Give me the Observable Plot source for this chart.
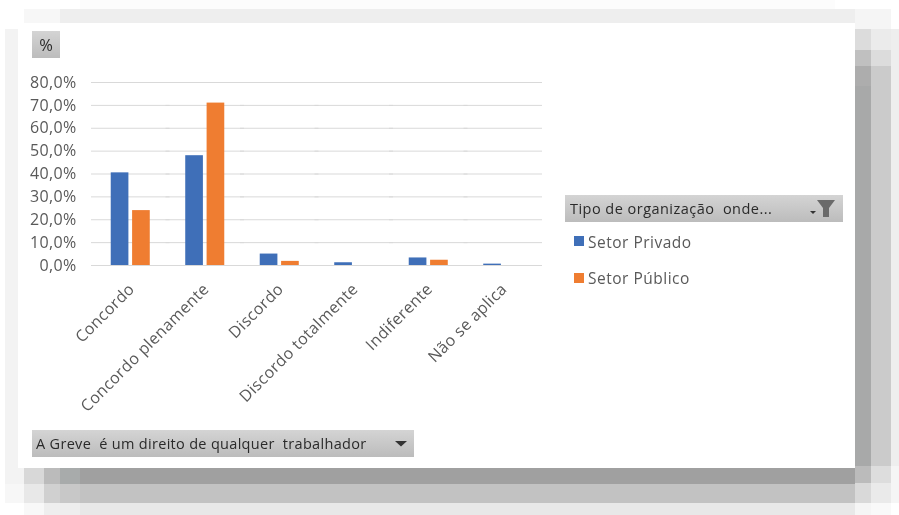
<!DOCTYPE html>
<html lang="pt">
<head>
<meta charset="utf-8">
<script src="https://cdn.jsdelivr.net/npm/d3@7"></script>
<script src="https://cdn.jsdelivr.net/npm/@observablehq/plot@0.6"></script>
<style>
html,body{margin:0;padding:0;background:#fff}
#stage{position:relative;width:899px;height:515px;overflow:hidden;background:#fff;font-family:"Open Sans",sans-serif}
#stage .s{position:absolute}
#panel{position:absolute;left:18px;top:23px;width:837px;height:445px;background:#fff}
#chart{position:absolute;left:0;top:0}
#chart svg{display:block;background:transparent!important}
.btn{position:absolute;background:linear-gradient(#d4d4d4,#bcbcbc);color:#2a2a2a;white-space:pre;font-size:14.5px;line-height:27px;filter:blur(.4px)}
.leg{position:absolute;color:#595959;font-size:15.5px;letter-spacing:.5px;white-space:pre;filter:blur(.4px)}
.sw{position:absolute;width:10px;height:10px}
</style>
</head>
<body>
<div id="stage">
  <div class="s" style="left:80px;top:0;width:755px;height:9px;background:#fcfcfc"></div>
  <div class="s" style="left:24px;top:9px;width:36px;height:14px;background:#f7f7f7"></div>
  <div class="s" style="left:60px;top:9px;width:795px;height:14px;background:#eeeeee"></div>
  <div class="s" style="left:5px;top:29px;width:13px;height:439px;background:#f3f3f3"></div>
  <div class="s" style="left:855px;top:9px;width:36px;height:20px;background:#f5f5f5"></div>
  <div class="s" style="left:855px;top:29px;width:16px;height:21px;background:#dcdcdc"></div>
  <div class="s" style="left:855px;top:50px;width:16px;height:16px;background:#c0c0c0"></div>
  <div class="s" style="left:855px;top:66px;width:16px;height:20px;background:#adadad"></div>
  <div class="s" style="left:855px;top:86px;width:16px;height:380px;background:#a8a9a9"></div>
  <div class="s" style="left:871px;top:29px;width:20px;height:21px;background:#ebebeb"></div>
  <div class="s" style="left:871px;top:50px;width:20px;height:16px;background:#dcdcdc"></div>
  <div class="s" style="left:871px;top:66px;width:20px;height:400px;background:#cbcbcb"></div>
  <div class="s" style="left:891px;top:29px;width:8px;height:437px;background:#eeeeee"></div>
  <div class="s" style="left:5px;top:468px;width:19px;height:16px;background:#f3f3f3"></div>
  <div class="s" style="left:24px;top:468px;width:20px;height:16px;background:#d8d8d8"></div>
  <div class="s" style="left:44px;top:468px;width:16px;height:16px;background:#bbbbbb"></div>
  <div class="s" style="left:60px;top:468px;width:20px;height:16px;background:#a8abab"></div>
  <div class="s" style="left:80px;top:468px;width:775px;height:16px;background:#a0a0a0"></div>
  <div class="s" style="left:5px;top:484px;width:19px;height:19px;background:#f7f7f7"></div>
  <div class="s" style="left:24px;top:484px;width:20px;height:19px;background:#e8e8e8"></div>
  <div class="s" style="left:44px;top:484px;width:16px;height:19px;background:#d0d0d0"></div>
  <div class="s" style="left:60px;top:484px;width:20px;height:19px;background:#c8c8c8"></div>
  <div class="s" style="left:80px;top:484px;width:775px;height:19px;background:#c2c2c2"></div>
  <div class="s" style="left:24px;top:503px;width:20px;height:12px;background:#f8f8f8"></div>
  <div class="s" style="left:44px;top:503px;width:36px;height:12px;background:#eeeeee"></div>
  <div class="s" style="left:80px;top:503px;width:775px;height:12px;background:#e8e8e8"></div>
  <div class="s" style="left:855px;top:466px;width:16px;height:17px;background:#bbbbbb"></div>
  <div class="s" style="left:855px;top:483px;width:16px;height:20px;background:#d9d9d9"></div>
  <div class="s" style="left:855px;top:503px;width:16px;height:12px;background:#f5f5f5"></div>
  <div class="s" style="left:871px;top:466px;width:20px;height:17px;background:#dddddd"></div>
  <div class="s" style="left:871px;top:483px;width:20px;height:20px;background:#eaeaea"></div>
  <div class="s" style="left:871px;top:503px;width:20px;height:12px;background:#f9f9f9"></div>
  <div class="s" style="left:891px;top:466px;width:8px;height:37px;background:#f5f5f5"></div>
  <div id="panel"></div>
  <div id="chart"></div>
  <div class="btn" style="left:32px;top:31px;width:28px;height:27px;text-align:center;line-height:27px;font-size:16.5px">%</div>
  <div class="btn" style="left:565px;top:195px;width:278px;height:27px;padding-left:5px;box-sizing:border-box;letter-spacing:.47px">Tipo de organização  onde...</div>
  <svg class="s" style="left:808px;top:198px;filter:blur(.5px)" width="30" height="22"><path d="M2 13h6l-3 3z" fill="#333"/><path d="M9 2h18l-6 8v9h-6v-9z" fill="#6a6a6a"/></svg>
  <div class="sw" style="left:574px;top:236px;background:#3f6fb8"></div>
  <div class="leg" id="leg0" style="left:588px;top:231px"></div>
  <div class="sw" style="left:574px;top:273px;background:#ef7d31"></div>
  <div class="leg" id="leg1" style="left:588px;top:267px"></div>
  <div class="btn" style="left:32px;top:430px;width:382px;height:27px;padding-left:4px;box-sizing:border-box;letter-spacing:.31px">A Greve  é um direito de qualquer  trabalhador</div>
  <svg class="s" style="left:395px;top:441px" width="13" height="7"><path d="M0 0h12l-6 5.5z" fill="#333"/></svg>
</div>
<script>
const categories = ["Concordo","Concordo plenamente","Discordo","Discordo totalmente","Indiferente","Não se aplica"];
const seriesNames = ["Setor Privado","Setor Público"];
const privado = [40.5,48,5,1.2,3.3,0.6];
const publico = [24,71,1.8,0,2.3,0];
const yTicks = [0,10,20,30,40,50,60,70,80];
const colors = ["#3f6fb8","#ef7d31"];

const rows = categories.flatMap((c,i)=>[
  {category:c,series:seriesNames[0],value:privado[i]},
  {category:c,series:seriesNames[1],value:publico[i]}
]);

const chart = Plot.plot({
  width:899,height:515,
  marginLeft:93,marginRight:359,marginTop:82,marginBottom:250,
  style:{background:"transparent",fontFamily:"'Open Sans',sans-serif",fontSize:"16px",color:"#595959",filter:"blur(.4px)",letterSpacing:".35px"},
  fx:{domain:categories,padding:0,round:false,label:null},
  x:{domain:seriesNames,paddingInner:.173,paddingOuter:.83,round:false,axis:null},
  y:{domain:[0,80],label:null},
  color:{domain:seriesNames,range:colors},
  marks:[
    Plot.ruleY(yTicks,{stroke:"#d9d9d9",strokeWidth:1,strokeOpacity:1,insetLeft:-2,insetRight:-2}),
    Plot.barY(rows,{fx:"category",x:"series",y:"value",fill:"series"}),
    Plot.axisY({ticks:yTicks,tickSize:0,tickPadding:17,label:null,tickFormat:d=>d.toFixed(1).replace(".",",")+"%",fill:"#595959"}),
    Plot.axisFx({anchor:"bottom",tickSize:0,tickPadding:21,tickRotate:-45,dx:1,label:null,fill:"#595959"})
  ]
});
document.getElementById("chart").appendChild(chart);
document.getElementById("leg0").textContent = seriesNames[0];
document.getElementById("leg1").textContent = seriesNames[1];
</script>
</body>
</html>
